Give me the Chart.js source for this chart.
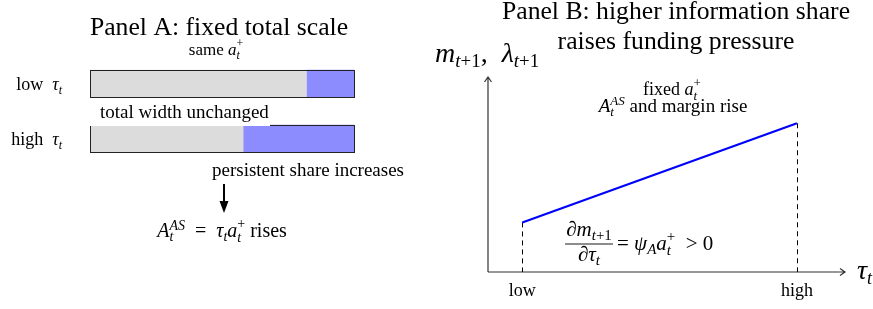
<!DOCTYPE html>
<html>
<head>
<meta charset="utf-8">
<script src="https://cdn.jsdelivr.net/npm/chart.js@4.4.0/dist/chart.umd.min.js"></script>
<style>
  body { margin: 0; background: #fff; }
  #wrap { position: relative; width: 873px; height: 309px; }
  #panelA { position: absolute; left: 0; top: 0; }
  #panelB { position: absolute; left: 420px; top: 0; }
</style>
</head>
<body>
<div id="wrap">
  <canvas id="panelA" width="420" height="309"></canvas>
  <canvas id="panelB" width="453" height="309"></canvas>
</div>
<script>
// Panel A: split of a fixed total scale
const tauLevels = ['low', 'high'];
const otherShare = [0.82, 0.58];
const persistentShare = [0.18, 0.42];

// Panel B: funding pressure vs information share
const tauPositions = [1, 9];
const marginValues = [1.5, 4.5];
const tauTickLabels = ['low', 'high'];

const SERIF = '"Liberation Serif", "Times New Roman", serif';

function fontOf(p) {
    return (p.i ? 'italic ' : '') + p.s + 'px ' + SERIF;
}

// draw text made of pieces: {t, s, i, dy, stay}
function rich(ctx, x, y, parts, align) {
    let w = 0;
    parts.forEach(function (p) {
        ctx.font = fontOf(p);
        if (!p.stay) w += ctx.measureText(p.t).width;
    });
    let cx = x;
    if (align === 'center') cx = x - w / 2;
    if (align === 'right') cx = x - w;
    ctx.fillStyle = '#000';
    ctx.textBaseline = 'alphabetic';
    ctx.textAlign = 'left';
    parts.forEach(function (p) {
        ctx.font = fontOf(p);
        ctx.fillText(p.t, cx, y + (p.dy || 0));
        if (!p.stay) cx += ctx.measureText(p.t).width;
    });
    return w;
}

function aPlus(s) {
    const k = Math.round(s * 0.7);
    return [
        { t: 'a', s: s, i: true },
        { t: 't', s: k, i: true, dy: Math.round(s * 0.25), stay: true },
        { t: '+', s: k, dy: -Math.round(s * 0.45) }
    ];
}

const panelAPlugin = {
    id: 'panelADecor',
    afterDatasetsDraw(chart) {
        const ctx = chart.ctx;
        const m0 = chart.getDatasetMeta(0);
        const m1 = chart.getDatasetMeta(1);
        ctx.save();
        // outline round each full bar
        m0.data.forEach(function (el, i) {
            const end = m1.data[i];
            const top = el.y - el.height / 2;
            ctx.strokeStyle = '#222';
            ctx.lineWidth = 1;
            ctx.strokeRect(Math.round(el.base) + 0.5, Math.round(top) + 0.5,
                Math.round(end.x - el.base), Math.round(el.height));
        });

        // row labels
        const ys = chart.scales.y;
        tauLevels.forEach(function (lab, i) {
            const py = ys.getPixelForValue(i);
            rich(ctx, 62, py + 6, [
                { t: lab + '  ', s: 18 },
                { t: 'τ', s: 18, i: true },
                { t: 't', s: 12, i: true, dy: 4 }
            ], 'right');
        });

        // label with white box over the second bar
        ctx.fillStyle = '#fff';
        ctx.fillRect(88, 102, 182, 24);
        rich(ctx, 100, 118, [{ t: 'total width unchanged', s: 19 }], 'left');

        // titles
        rich(ctx, 219, 35, [{ t: 'Panel A: fixed total scale', s: 25.7 }], 'center');
        rich(ctx, 216, 55, [{ t: 'same ', s: 17 }].concat(aPlus(17)), 'center');

        // persistent share note and arrow
        rich(ctx, 308, 176, [{ t: 'persistent share increases', s: 19 }], 'center');
        ctx.strokeStyle = '#000';
        ctx.lineWidth = 2;
        ctx.beginPath();
        ctx.moveTo(224, 184);
        ctx.lineTo(224, 204);
        ctx.stroke();
        ctx.fillStyle = '#000';
        ctx.beginPath();
        ctx.moveTo(219.5, 201);
        ctx.lineTo(228.5, 201);
        ctx.lineTo(224, 213);
        ctx.closePath();
        ctx.fill();

        rich(ctx, 222, 237, [
            { t: 'A', s: 20, i: true },
            { t: 't', s: 14, i: true, dy: 4, stay: true },
            { t: 'AS', s: 14, i: true, dy: -7 },
            { t: '  =  ', s: 20 },
            { t: 'τ', s: 20, i: true },
            { t: 't', s: 14, i: true, dy: 4 }
        ].concat(aPlus(20), [{ t: ' rises', s: 20 }]), 'center');
        ctx.restore();
    }
};

new Chart(document.getElementById('panelA'), {
    type: 'bar',
    data: {
        labels: tauLevels,
        datasets: [
            { label: 'other share', data: otherShare, backgroundColor: '#dcdcdc', borderWidth: 0 },
            { label: 'persistent share', data: persistentShare, backgroundColor: '#8c8cff', borderWidth: 0 }
        ]
    },
    options: {
        indexAxis: 'y',
        responsive: false,
        animation: false,
        layout: { padding: { left: 90, right: 66, top: 56, bottom: 143 } },
        scales: {
            x: { stacked: true, min: 0, max: 1, display: false },
            y: { stacked: true, display: false }
        },
        datasets: { bar: { barThickness: 27 } },
        plugins: { legend: { display: false }, tooltip: { enabled: false } }
    },
    plugins: [panelAPlugin]
});

const panelBPlugin = {
    id: 'panelBDecor',
    beforeDatasetsDraw(chart) {
        const ctx = chart.ctx;
        const a = chart.chartArea;
        const xs = chart.scales.x;
        const ys = chart.scales.y;
        ctx.save();
        // axes with open arrow heads
        ctx.strokeStyle = '#333';
        ctx.lineWidth = 1.2;
        ctx.beginPath();
        ctx.moveTo(a.left, a.bottom);
        ctx.lineTo(a.left, a.top);
        ctx.moveTo(a.left, a.bottom);
        ctx.lineTo(a.right, a.bottom);
        ctx.moveTo(a.left - 3.5, a.top + 5);
        ctx.lineTo(a.left, a.top);
        ctx.lineTo(a.left + 3.5, a.top + 5);
        ctx.moveTo(a.right - 5, a.bottom - 3.5);
        ctx.lineTo(a.right, a.bottom);
        ctx.lineTo(a.right - 5, a.bottom + 3.5);
        ctx.stroke();

        // dashed drop lines
        ctx.strokeStyle = '#000';
        ctx.lineWidth = 1;
        ctx.setLineDash([5, 4]);
        tauPositions.forEach(function (t, i) {
            const px = Math.round(xs.getPixelForValue(t)) + 0.5;
            ctx.beginPath();
            ctx.moveTo(px, ys.getPixelForValue(marginValues[i]));
            ctx.lineTo(px, a.bottom);
            ctx.stroke();
        });
        ctx.setLineDash([]);
        ctx.restore();
    },
    afterDraw(chart) {
        const ctx = chart.ctx;
        const a = chart.chartArea;
        const xs = chart.scales.x;
        ctx.save();
        rich(ctx, 256, 19, [{ t: 'Panel B: higher information share', s: 25.7 }], 'center');
        rich(ctx, 256, 49, [{ t: 'raises funding pressure', s: 25.7 }], 'center');

        rich(ctx, 15, 62, [
            { t: 'm', s: 28, i: true },
            { t: 't', s: 19, i: true, dy: 5 },
            { t: '+1', s: 19, dy: 5 },
            { t: ',  ', s: 28 },
            { t: 'λ', s: 28, i: true },
            { t: 't', s: 19, i: true, dy: 5 },
            { t: '+1', s: 19, dy: 5 }
        ], 'left');

        rich(ctx, 252, 95, [{ t: 'fixed ', s: 18 }].concat(aPlus(18)), 'center');
        rich(ctx, 253, 112, [
            { t: 'A', s: 19, i: true },
            { t: 't', s: 13, i: true, dy: 4, stay: true },
            { t: 'AS', s: 13, i: true, dy: -7 },
            { t: ' and margin rise', s: 19 }
        ], 'center');

        // derivative annotation
        rich(ctx, 169, 236, [
            { t: '∂', s: 21, i: true },
            { t: 'm', s: 21, i: true },
            { t: 't', s: 15, i: true, dy: 4 },
            { t: '+1', s: 15, dy: 4 }
        ], 'center');
        ctx.strokeStyle = '#000';
        ctx.lineWidth = 0.9;
        ctx.beginPath();
        ctx.moveTo(145, 244);
        ctx.lineTo(193, 244);
        ctx.stroke();
        rich(ctx, 169, 261, [
            { t: '∂', s: 21, i: true },
            { t: 'τ', s: 21, i: true },
            { t: 't', s: 15, i: true, dy: 4 }
        ], 'center');
        rich(ctx, 197, 250, [
            { t: '= ', s: 21 },
            { t: 'ψ', s: 21, i: true },
            { t: 'A', s: 15, i: true, dy: 4 }
        ].concat(aPlus(21), [{ t: '  > 0', s: 21 }]), 'left');

        // category labels under the axis
        tauPositions.forEach(function (t, i) {
            rich(ctx, xs.getPixelForValue(t), 296, [{ t: tauTickLabels[i], s: 18 }], 'center');
        });
        rich(ctx, a.right + 12, 279, [
            { t: 'τ', s: 28, i: true },
            { t: 't', s: 18, i: true, dy: 5 }
        ], 'left');
        ctx.restore();
    }
};

new Chart(document.getElementById('panelB'), {
    type: 'line',
    data: {
        datasets: [{
            label: 'margin',
            data: tauPositions.map(function (t, i) { return { x: t, y: marginValues[i] }; }),
            borderColor: '#0000ff',
            borderWidth: 2.2,
            pointRadius: 0,
            fill: false
        }]
    },
    options: {
        responsive: false,
        animation: false,
        layout: { padding: { left: 68, right: 28, top: 77, bottom: 37 } },
        scales: {
            x: { type: 'linear', min: 0, max: 10.4, display: false },
            y: { min: 0, max: 5.9, display: false }
        },
        plugins: { legend: { display: false }, tooltip: { enabled: false } }
    },
    plugins: [panelBPlugin]
});
</script>
</body>
</html>
